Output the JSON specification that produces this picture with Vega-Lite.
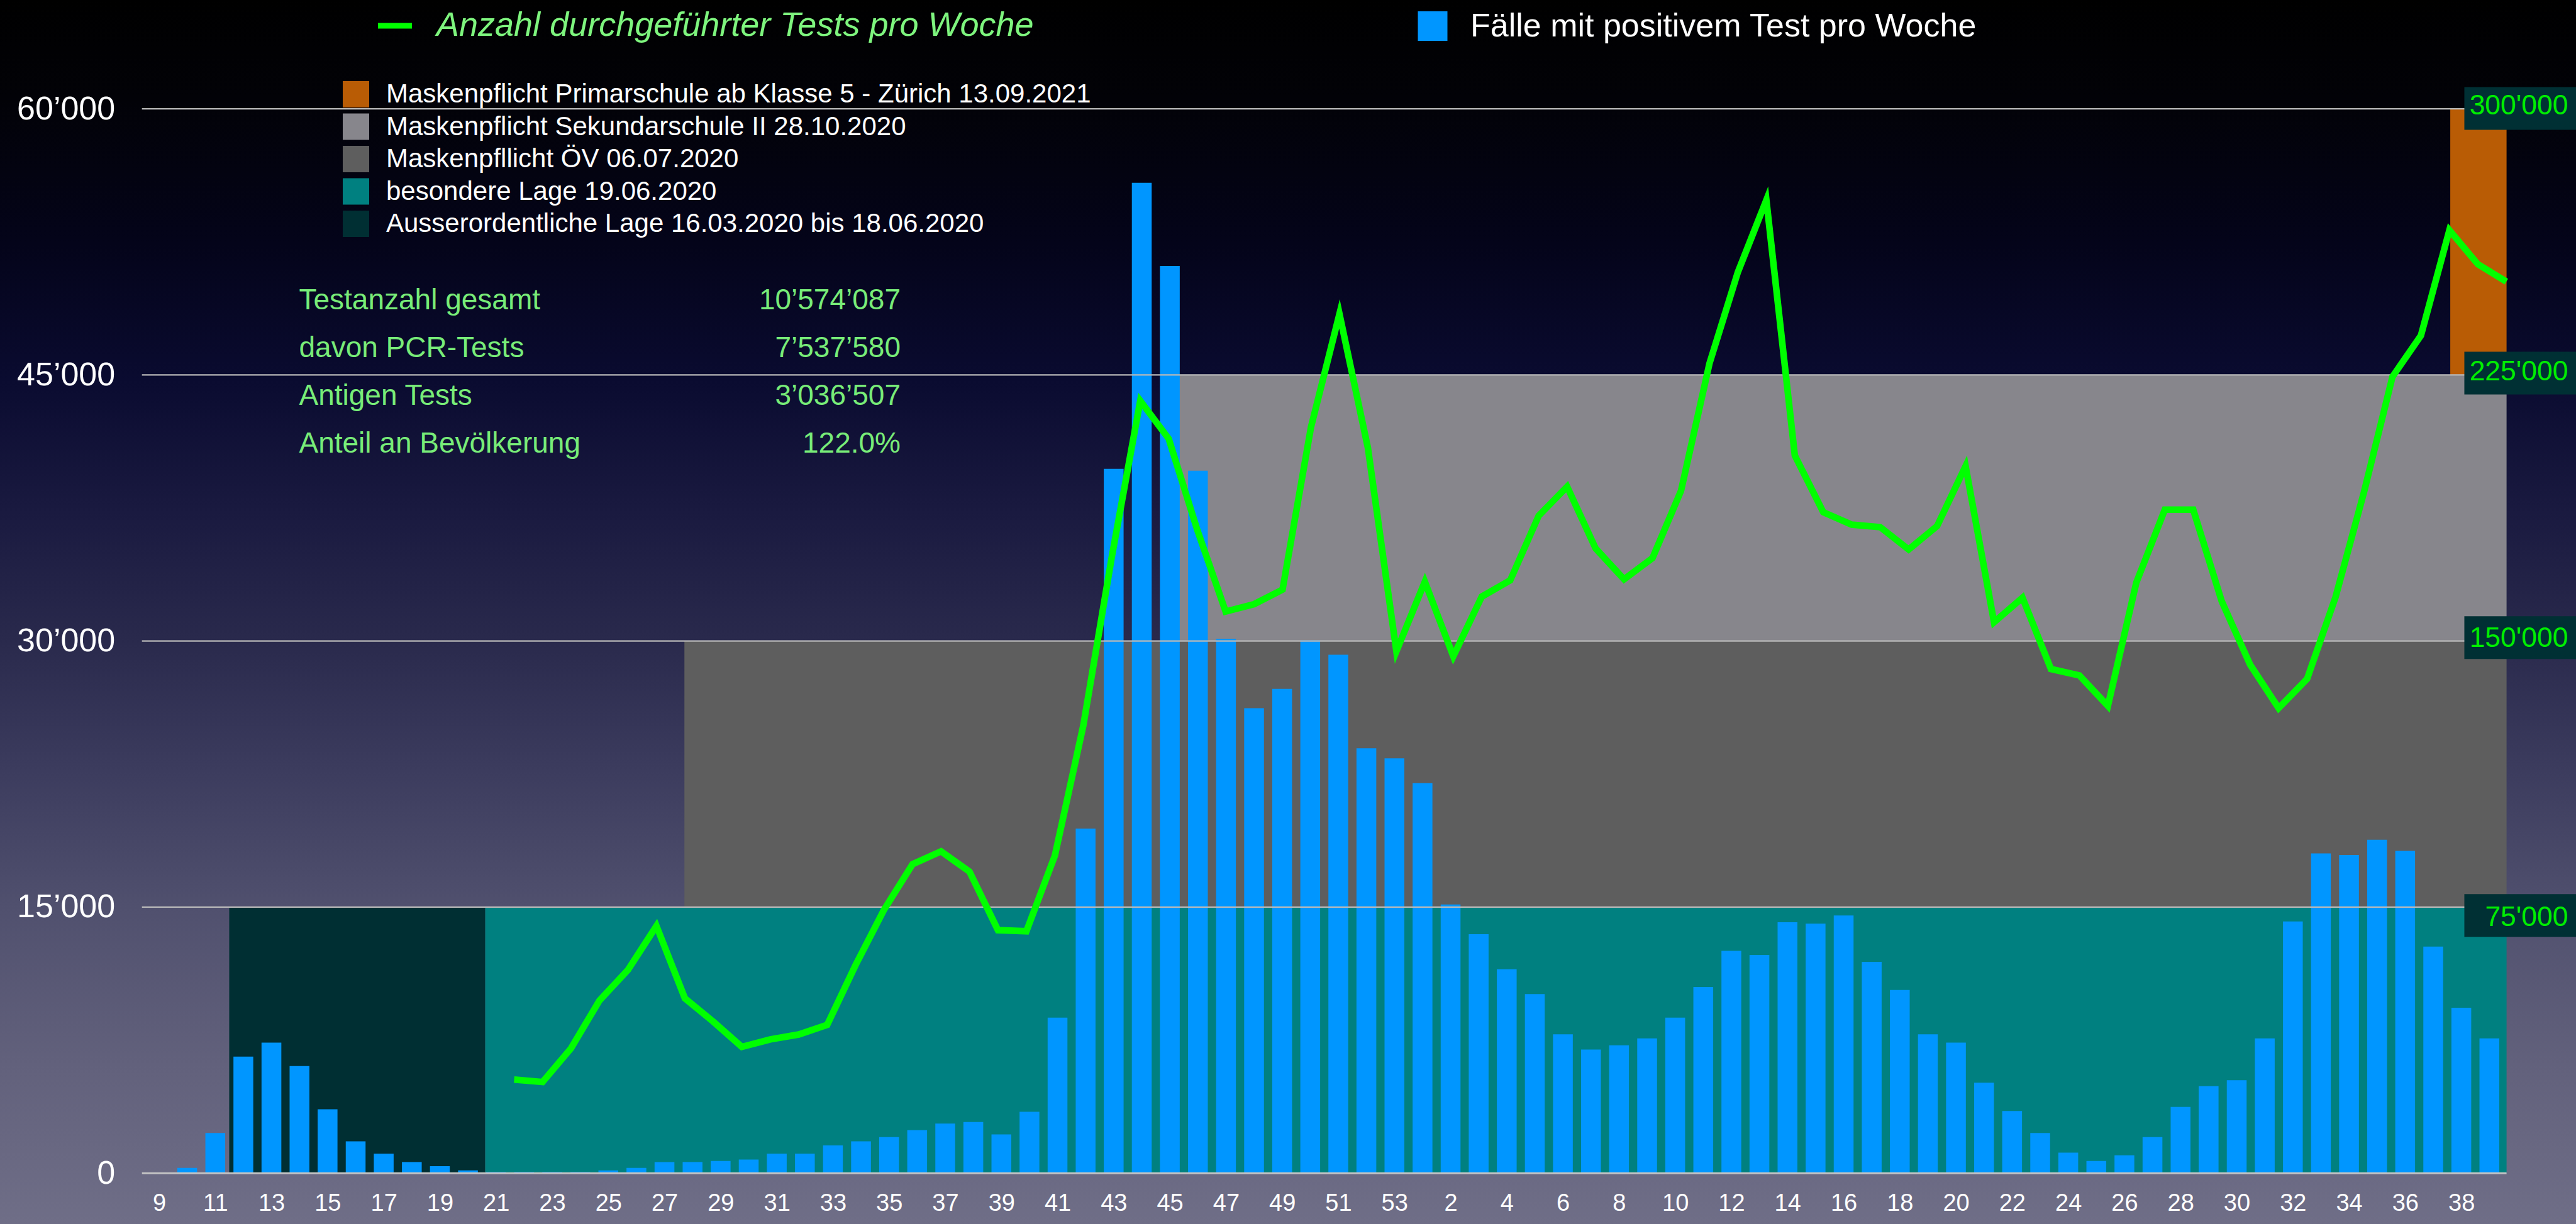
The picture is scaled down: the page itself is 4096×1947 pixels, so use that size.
{
  "$schema": "https://vega.github.io/schema/vega-lite/v6.json",
  "width": 4096,
  "height": 1947,
  "padding": 0,
  "autosize": {"type": "none"},
  "background": "#000000",
  "config": {"view": {"stroke": null}, "font": "Liberation Sans"},
  "datasets": {
    "periods": [
      {"name": "Maskenpflicht Primarschule ab Klasse 5 - Zürich 13.09.2021", "start": 81.5, "end": 83.5, "lo": 45000, "hi": 60000},
      {"name": "Maskenpflicht Sekundarschule II 28.10.2020", "start": 35.95, "end": 83.5, "lo": 30000, "hi": 45000},
      {"name": "Maskenpfllicht ÖV 06.07.2020", "start": 18.77, "end": 83.5, "lo": 15000, "hi": 30000},
      {"name": "besondere Lage 19.06.2020", "start": 11.69, "end": 83.5, "lo": 0, "hi": 15000},
      {"name": "Ausserordentliche Lage 16.03.2020 bis 18.06.2020", "start": 2.6, "end": 11.69, "lo": 0, "hi": 15000}
    ],
    "cases": [
      {"i": 0, "year": 2020, "week": 9, "cases": 0},
      {"i": 1, "year": 2020, "week": 10, "cases": 300},
      {"i": 2, "year": 2020, "week": 11, "cases": 2270},
      {"i": 3, "year": 2020, "week": 12, "cases": 6570},
      {"i": 4, "year": 2020, "week": 13, "cases": 7360},
      {"i": 5, "year": 2020, "week": 14, "cases": 6040},
      {"i": 6, "year": 2020, "week": 15, "cases": 3600},
      {"i": 7, "year": 2020, "week": 16, "cases": 1800},
      {"i": 8, "year": 2020, "week": 17, "cases": 1100},
      {"i": 9, "year": 2020, "week": 18, "cases": 630},
      {"i": 10, "year": 2020, "week": 19, "cases": 400},
      {"i": 11, "year": 2020, "week": 20, "cases": 160},
      {"i": 12, "year": 2020, "week": 21, "cases": 70},
      {"i": 13, "year": 2020, "week": 22, "cases": 70},
      {"i": 14, "year": 2020, "week": 23, "cases": 70},
      {"i": 15, "year": 2020, "week": 24, "cases": 70},
      {"i": 16, "year": 2020, "week": 25, "cases": 160},
      {"i": 17, "year": 2020, "week": 26, "cases": 300},
      {"i": 18, "year": 2020, "week": 27, "cases": 630},
      {"i": 19, "year": 2020, "week": 28, "cases": 630},
      {"i": 20, "year": 2020, "week": 29, "cases": 690},
      {"i": 21, "year": 2020, "week": 30, "cases": 770},
      {"i": 22, "year": 2020, "week": 31, "cases": 1100},
      {"i": 23, "year": 2020, "week": 32, "cases": 1100},
      {"i": 24, "year": 2020, "week": 33, "cases": 1570},
      {"i": 25, "year": 2020, "week": 34, "cases": 1800},
      {"i": 26, "year": 2020, "week": 35, "cases": 2040},
      {"i": 27, "year": 2020, "week": 36, "cases": 2430},
      {"i": 28, "year": 2020, "week": 37, "cases": 2800},
      {"i": 29, "year": 2020, "week": 38, "cases": 2890},
      {"i": 30, "year": 2020, "week": 39, "cases": 2190},
      {"i": 31, "year": 2020, "week": 40, "cases": 3460},
      {"i": 32, "year": 2020, "week": 41, "cases": 8770},
      {"i": 33, "year": 2020, "week": 42, "cases": 19430},
      {"i": 34, "year": 2020, "week": 43, "cases": 39710},
      {"i": 35, "year": 2020, "week": 44, "cases": 55830},
      {"i": 36, "year": 2020, "week": 45, "cases": 51140},
      {"i": 37, "year": 2020, "week": 46, "cases": 39600},
      {"i": 38, "year": 2020, "week": 47, "cases": 30120},
      {"i": 39, "year": 2020, "week": 48, "cases": 26210},
      {"i": 40, "year": 2020, "week": 49, "cases": 27300},
      {"i": 41, "year": 2020, "week": 50, "cases": 30040},
      {"i": 42, "year": 2020, "week": 51, "cases": 29230},
      {"i": 43, "year": 2020, "week": 52, "cases": 23950},
      {"i": 44, "year": 2020, "week": 53, "cases": 23390},
      {"i": 45, "year": 2021, "week": 1, "cases": 21990},
      {"i": 46, "year": 2021, "week": 2, "cases": 15150},
      {"i": 47, "year": 2021, "week": 3, "cases": 13470},
      {"i": 48, "year": 2021, "week": 4, "cases": 11500},
      {"i": 49, "year": 2021, "week": 5, "cases": 10100},
      {"i": 50, "year": 2021, "week": 6, "cases": 7830},
      {"i": 51, "year": 2021, "week": 7, "cases": 6970},
      {"i": 52, "year": 2021, "week": 8, "cases": 7210},
      {"i": 53, "year": 2021, "week": 9, "cases": 7600},
      {"i": 54, "year": 2021, "week": 10, "cases": 8770},
      {"i": 55, "year": 2021, "week": 11, "cases": 10500},
      {"i": 56, "year": 2021, "week": 12, "cases": 12530},
      {"i": 57, "year": 2021, "week": 13, "cases": 12300},
      {"i": 58, "year": 2021, "week": 14, "cases": 14150},
      {"i": 59, "year": 2021, "week": 15, "cases": 14070},
      {"i": 60, "year": 2021, "week": 16, "cases": 14530},
      {"i": 61, "year": 2021, "week": 17, "cases": 11910},
      {"i": 62, "year": 2021, "week": 18, "cases": 10330},
      {"i": 63, "year": 2021, "week": 19, "cases": 7830},
      {"i": 64, "year": 2021, "week": 20, "cases": 7360},
      {"i": 65, "year": 2021, "week": 21, "cases": 5100},
      {"i": 66, "year": 2021, "week": 22, "cases": 3510},
      {"i": 67, "year": 2021, "week": 23, "cases": 2270},
      {"i": 68, "year": 2021, "week": 24, "cases": 1160},
      {"i": 69, "year": 2021, "week": 25, "cases": 690},
      {"i": 70, "year": 2021, "week": 26, "cases": 1010},
      {"i": 71, "year": 2021, "week": 27, "cases": 2040},
      {"i": 72, "year": 2021, "week": 28, "cases": 3740},
      {"i": 73, "year": 2021, "week": 29, "cases": 4910},
      {"i": 74, "year": 2021, "week": 30, "cases": 5240},
      {"i": 75, "year": 2021, "week": 31, "cases": 7600},
      {"i": 76, "year": 2021, "week": 32, "cases": 14190},
      {"i": 77, "year": 2021, "week": 33, "cases": 18030},
      {"i": 78, "year": 2021, "week": 34, "cases": 17940},
      {"i": 79, "year": 2021, "week": 35, "cases": 18800},
      {"i": 80, "year": 2021, "week": 36, "cases": 18170},
      {"i": 81, "year": 2021, "week": 37, "cases": 12770},
      {"i": 82, "year": 2021, "week": 38, "cases": 9330},
      {"i": 83, "year": 2021, "week": 39, "cases": 7600}
    ],
    "tests": [
      {"i": 13, "year": 2020, "week": 22, "tests": 26400},
      {"i": 14, "year": 2020, "week": 23, "tests": 25700},
      {"i": 15, "year": 2020, "week": 24, "tests": 35200},
      {"i": 16, "year": 2020, "week": 25, "tests": 48700},
      {"i": 17, "year": 2020, "week": 26, "tests": 57300},
      {"i": 18, "year": 2020, "week": 27, "tests": 69700},
      {"i": 19, "year": 2020, "week": 28, "tests": 49300},
      {"i": 20, "year": 2020, "week": 29, "tests": 42700},
      {"i": 21, "year": 2020, "week": 30, "tests": 35600},
      {"i": 22, "year": 2020, "week": 31, "tests": 37700},
      {"i": 23, "year": 2020, "week": 32, "tests": 39100},
      {"i": 24, "year": 2020, "week": 33, "tests": 41800},
      {"i": 25, "year": 2020, "week": 34, "tests": 58700},
      {"i": 26, "year": 2020, "week": 35, "tests": 74300},
      {"i": 27, "year": 2020, "week": 36, "tests": 87100},
      {"i": 28, "year": 2020, "week": 37, "tests": 90700},
      {"i": 29, "year": 2020, "week": 38, "tests": 85000},
      {"i": 30, "year": 2020, "week": 39, "tests": 68500},
      {"i": 31, "year": 2020, "week": 40, "tests": 68200},
      {"i": 32, "year": 2020, "week": 41, "tests": 89500},
      {"i": 33, "year": 2020, "week": 42, "tests": 126200},
      {"i": 34, "year": 2020, "week": 43, "tests": 173700},
      {"i": 35, "year": 2020, "week": 44, "tests": 217700},
      {"i": 36, "year": 2020, "week": 45, "tests": 207000},
      {"i": 37, "year": 2020, "week": 46, "tests": 181400},
      {"i": 38, "year": 2020, "week": 47, "tests": 158300},
      {"i": 39, "year": 2020, "week": 48, "tests": 160400},
      {"i": 40, "year": 2020, "week": 49, "tests": 164500},
      {"i": 41, "year": 2020, "week": 50, "tests": 210300},
      {"i": 42, "year": 2020, "week": 51, "tests": 242200},
      {"i": 43, "year": 2020, "week": 52, "tests": 204400},
      {"i": 44, "year": 2020, "week": 53, "tests": 147100},
      {"i": 45, "year": 2021, "week": 1, "tests": 166700},
      {"i": 46, "year": 2021, "week": 2, "tests": 145700},
      {"i": 47, "year": 2021, "week": 3, "tests": 162500},
      {"i": 48, "year": 2021, "week": 4, "tests": 167100},
      {"i": 49, "year": 2021, "week": 5, "tests": 185300},
      {"i": 50, "year": 2021, "week": 6, "tests": 193500},
      {"i": 51, "year": 2021, "week": 7, "tests": 176100},
      {"i": 52, "year": 2021, "week": 8, "tests": 167400},
      {"i": 53, "year": 2021, "week": 9, "tests": 173400},
      {"i": 54, "year": 2021, "week": 10, "tests": 192300},
      {"i": 55, "year": 2021, "week": 11, "tests": 228200},
      {"i": 56, "year": 2021, "week": 12, "tests": 254000},
      {"i": 57, "year": 2021, "week": 13, "tests": 274300},
      {"i": 58, "year": 2021, "week": 14, "tests": 202300},
      {"i": 59, "year": 2021, "week": 15, "tests": 186300},
      {"i": 60, "year": 2021, "week": 16, "tests": 182800},
      {"i": 61, "year": 2021, "week": 17, "tests": 182100},
      {"i": 62, "year": 2021, "week": 18, "tests": 175800},
      {"i": 63, "year": 2021, "week": 19, "tests": 182400},
      {"i": 64, "year": 2021, "week": 20, "tests": 199300},
      {"i": 65, "year": 2021, "week": 21, "tests": 155300},
      {"i": 66, "year": 2021, "week": 22, "tests": 162200},
      {"i": 67, "year": 2021, "week": 23, "tests": 142100},
      {"i": 68, "year": 2021, "week": 24, "tests": 140300},
      {"i": 69, "year": 2021, "week": 25, "tests": 131700},
      {"i": 70, "year": 2021, "week": 26, "tests": 166500},
      {"i": 71, "year": 2021, "week": 27, "tests": 187000},
      {"i": 72, "year": 2021, "week": 28, "tests": 187000},
      {"i": 73, "year": 2021, "week": 29, "tests": 161200},
      {"i": 74, "year": 2021, "week": 30, "tests": 143300},
      {"i": 75, "year": 2021, "week": 31, "tests": 131100},
      {"i": 76, "year": 2021, "week": 32, "tests": 139300},
      {"i": 77, "year": 2021, "week": 33, "tests": 162400},
      {"i": 78, "year": 2021, "week": 34, "tests": 192000},
      {"i": 79, "year": 2021, "week": 35, "tests": 224500},
      {"i": 80, "year": 2021, "week": 36, "tests": 236100},
      {"i": 81, "year": 2021, "week": 37, "tests": 265800},
      {"i": 82, "year": 2021, "week": 38, "tests": 256200},
      {"i": 83, "year": 2021, "week": 39, "tests": 251300}
    ],
    "grid": [{"v": 15000}, {"v": 30000}, {"v": 45000}, {"v": 60000}],
    "base": [{"v": 0}],
    "rticks": [
      {"v": 75000, "label": "75'000"},
      {"v": 150000, "label": "150'000"},
      {"v": 225000, "label": "225'000"},
      {"v": 300000, "label": "300'000"}
    ],
    "stats": [
      {"label": "Testanzahl gesamt", "value": "10’574’087"},
      {"label": "davon PCR-Tests", "value": "7’537’580"},
      {"label": "Antigen Tests", "value": "3’036’507"},
      {"label": "Anteil an Bevölkerung", "value": "122.0%"}
    ]
  },
  "resolve": {"scale": {"x": "independent", "y": "independent"}},
  "layer": [
    {
      "data": {"values": [{}]},
      "mark": {
        "type": "rect",
        "fill": {
          "gradient": "linear", "x1": 0, "y1": 0, "x2": 0, "y2": 1,
          "stops": [
            {"offset": 0, "color": "#000000"},
            {"offset": 0.08, "color": "#020207"},
            {"offset": 0.2, "color": "#04041a"},
            {"offset": 0.31, "color": "#0a0b30"},
            {"offset": 0.42, "color": "#1a1a40"},
            {"offset": 0.52, "color": "#29294c"},
            {"offset": 0.63, "color": "#3c3c5e"},
            {"offset": 0.74, "color": "#50506e"},
            {"offset": 0.87, "color": "#62617c"},
            {"offset": 1, "color": "#6f6e87"}
          ]
        }
      },
      "encoding": {}
    },
    {
      "data": {"name": "periods"},
      "mark": {"type": "rect"},
      "encoding": {
        "x": {"field": "start", "type": "quantitative", "scale": {"domain": [-0.5, 83.5], "range": [225.7, 3985.6], "nice": false, "zero": false}, "axis": null},
        "x2": {"field": "end"},
        "y": {"field": "lo", "type": "quantitative", "scale": {"domain": [0, 60000], "range": [1866.2, 173.1], "nice": false, "zero": false}, "axis": null},
        "y2": {"field": "hi"},
        "fill": {
          "field": "name", "type": "nominal",
          "scale": {
            "domain": ["Maskenpflicht Primarschule ab Klasse 5 - Zürich 13.09.2021", "Maskenpflicht Sekundarschule II 28.10.2020", "Maskenpfllicht ÖV 06.07.2020", "besondere Lage 19.06.2020", "Ausserordentliche Lage 16.03.2020 bis 18.06.2020"],
            "range": ["#b95c05", "#87868c", "#5e5e5e", "#008080", "#002f33"]
          },
          "legend": {
            "orient": "none", "legendX": 545, "legendY": 129, "title": null, "padding": 0,
            "symbolType": "square", "symbolSize": 1764, "symbolStrokeWidth": 0, "symbolOpacity": 1,
            "labelFontSize": 42, "labelColor": "#ffffff", "labelFont": "Liberation Sans",
            "labelOffset": 27, "rowPadding": 9.5, "labelLimit": 3000
          }
        }
      }
    },
    {
      "data": {"name": "cases"},
      "mark": {"type": "bar", "orient": "vertical", "width": 31.5},
      "encoding": {
        "x": {
          "field": "i", "type": "quantitative",
          "scale": {"domain": [-0.5, 83.5], "range": [225.7, 3985.6], "nice": false, "zero": false},
          "axis": {
            "orient": "bottom", "offset": -81, "zindex": 2, "title": null, "domain": false, "ticks": false, "tickSize": 0, "grid": false,
            "values": [0, 2, 4, 6, 8, 10, 12, 14, 16, 18, 20, 22, 24, 26, 28, 30, 32, 34, 36, 38, 40, 42, 44, 46, 48, 50, 52, 54, 56, 58, 60, 62, 64, 66, 68, 70, 72, 74, 76, 78, 80, 82],
            "labelExpr": "'' + (datum.value <= 44 ? datum.value + 9 : datum.value - 44)",
            "labelFontSize": 38, "labelColor": "#ffffff", "labelFont": "Liberation Sans",
            "labelBaseline": "alphabetic", "labelPadding": 59, "labelFlush": false, "labelOverlap": false
          }
        },
        "y": {
          "field": "cases", "type": "quantitative",
          "scale": {"domain": [0, 60000], "range": [1866.2, 173.1], "nice": false, "zero": false},
          "axis": {
            "orient": "left", "offset": -225.7, "zindex": 2, "title": null, "domain": false, "ticks": false, "tickSize": 0, "grid": false,
            "values": [0, 15000, 30000, 45000, 60000],
            "labelExpr": "replace(format(datum.value, ','), ',', '’')",
            "labelFontSize": 52, "labelColor": "#ffffff", "labelFont": "Liberation Sans",
            "labelBaseline": "middle", "labelPadding": 43, "labelLimit": 1000, "labelFlush": false, "labelOverlap": false
          }
        },
        "color": {
          "datum": "Fälle mit positivem Test pro Woche", "type": "nominal",
          "scale": {"range": ["#0096ff"]},
          "legend": {
            "orient": "none", "legendX": 2252, "legendY": 15.5, "title": null, "padding": 0,
            "symbolType": "square", "symbolSize": 2209, "symbolStrokeWidth": 0, "symbolOpacity": 1,
            "labelFontSize": 52, "labelColor": "#ffffff", "labelFont": "Liberation Sans",
            "labelOffset": 34, "labelLimit": 3000
          }
        }
      }
    },
    {
      "data": {"name": "grid"},
      "mark": {"type": "rule", "stroke": "#b9b9b9", "strokeWidth": 2.2},
      "encoding": {
        "y": {"field": "v", "type": "quantitative", "scale": {"domain": [0, 60000], "range": [1866.2, 173.1], "nice": false, "zero": false}, "axis": null},
        "x": {"datum": -0.5, "type": "quantitative", "scale": {"domain": [-0.5, 83.5], "range": [225.7, 3985.6], "nice": false, "zero": false}, "axis": null},
        "x2": {"datum": 83.5}
      }
    },
    {
      "data": {"name": "base"},
      "mark": {"type": "rule", "stroke": "#c4c4c4", "strokeWidth": 3},
      "encoding": {
        "y": {"field": "v", "type": "quantitative", "scale": {"domain": [0, 60000], "range": [1866.2, 173.1], "nice": false, "zero": false}, "axis": null},
        "x": {"datum": -0.5, "type": "quantitative", "scale": {"domain": [-0.5, 83.5], "range": [225.7, 3985.6], "nice": false, "zero": false}, "axis": null},
        "x2": {"datum": 83.5}
      }
    },
    {
      "data": {"name": "tests"},
      "mark": {"type": "line", "strokeWidth": 10.5, "strokeJoin": "miter", "strokeMiterLimit": 6},
      "encoding": {
        "x": {"field": "i", "type": "quantitative", "scale": {"domain": [13, 83], "range": [817.5, 3985.2], "nice": false, "zero": false}, "axis": null},
        "y": {"field": "tests", "type": "quantitative", "scale": {"domain": [0, 300000], "range": [1866.2, 173.1], "nice": false, "zero": false}, "axis": null},
        "stroke": {
          "datum": "Anzahl durchgeführter Tests pro Woche", "type": "nominal",
          "scale": {"range": ["#00ff00"]},
          "legend": {
            "orient": "none", "legendX": 596.5, "legendY": 9.5, "title": null, "padding": 0,
            "symbolType": "stroke", "symbolSize": 2916, "symbolStrokeWidth": 9, "symbolOpacity": 1,
            "labelFontSize": 54, "labelFontStyle": "italic", "labelColor": "#7ef57e", "labelFont": "Liberation Sans",
            "labelOffset": 34.5, "labelLimit": 3000
          }
        }
      }
    },
    {
      "data": {"name": "rticks"},
      "transform": [{"filter": "datum.v != 75000"}],
      "mark": {"type": "bar", "orient": "horizontal", "height": 68, "yOffset": -5.5, "fill": "#003034"},
      "encoding": {
        "y": {"field": "v", "type": "quantitative", "scale": {"domain": [0, 300000], "range": [1866.2, 173.1], "nice": false, "zero": false}, "axis": null},
        "x": {"datum": 82, "type": "quantitative", "scale": {"domain": [-0.5, 83.5], "range": [225.7, 3985.6], "nice": false, "zero": false}, "axis": null},
        "x2": {"datum": 87}
      }
    },
    {
      "data": {"name": "rticks"},
      "transform": [{"filter": "datum.v == 75000"}],
      "mark": {"type": "bar", "orient": "horizontal", "height": 68, "yOffset": 15.7, "fill": "#003034"},
      "encoding": {
        "y": {"field": "v", "type": "quantitative", "scale": {"domain": [0, 300000], "range": [1866.2, 173.1], "nice": false, "zero": false}, "axis": null},
        "x": {"datum": 82, "type": "quantitative", "scale": {"domain": [-0.5, 83.5], "range": [225.7, 3985.6], "nice": false, "zero": false}, "axis": null},
        "x2": {"datum": 87}
      }
    },
    {
      "data": {"name": "rticks"},
      "transform": [{"filter": "datum.v != 75000"}],
      "mark": {"type": "text", "align": "right", "baseline": "middle", "fontSize": 44.5, "font": "Liberation Sans", "fill": "#00ee00", "yOffset": -4},
      "encoding": {
        "y": {"field": "v", "type": "quantitative", "scale": {"domain": [0, 300000], "range": [1866.2, 173.1], "nice": false, "zero": false}, "axis": null},
        "x": {"datum": 85.69, "type": "quantitative", "scale": {"domain": [-0.5, 83.5], "range": [225.7, 3985.6], "nice": false, "zero": false}, "axis": null},
        "text": {"field": "label", "type": "nominal"}
      }
    },
    {
      "data": {"name": "rticks"},
      "transform": [{"filter": "datum.v == 75000"}],
      "mark": {"type": "text", "align": "right", "baseline": "middle", "fontSize": 44.5, "font": "Liberation Sans", "fill": "#00ee00", "yOffset": 17.3},
      "encoding": {
        "y": {"field": "v", "type": "quantitative", "scale": {"domain": [0, 300000], "range": [1866.2, 173.1], "nice": false, "zero": false}, "axis": null},
        "x": {"datum": 85.69, "type": "quantitative", "scale": {"domain": [-0.5, 83.5], "range": [225.7, 3985.6], "nice": false, "zero": false}, "axis": null},
        "text": {"field": "label", "type": "nominal"}
      }
    },
    {
      "data": {"name": "stats"},
      "mark": {"type": "text", "align": "left", "baseline": "middle", "fontSize": 46, "font": "Liberation Sans", "fill": "#78ec78"},
      "encoding": {
        "y": {"field": "label", "type": "nominal", "sort": null, "scale": {"type": "point", "range": [478.1, 705.6], "padding": 0}, "axis": null},
        "x": {"datum": 5.08, "type": "quantitative", "scale": {"domain": [-0.5, 83.5], "range": [225.7, 3985.6], "nice": false, "zero": false}, "axis": null},
        "text": {"field": "label", "type": "nominal"}
      }
    },
    {
      "data": {"name": "stats"},
      "mark": {"type": "text", "align": "right", "baseline": "middle", "fontSize": 46, "font": "Liberation Sans", "fill": "#78ec78"},
      "encoding": {
        "y": {"field": "label", "type": "nominal", "sort": null, "scale": {"type": "point", "range": [478.1, 705.6], "padding": 0}, "axis": null},
        "x": {"datum": 26.45, "type": "quantitative", "scale": {"domain": [-0.5, 83.5], "range": [225.7, 3985.6], "nice": false, "zero": false}, "axis": null},
        "text": {"field": "value", "type": "nominal"}
      }
    }
  ]
}
